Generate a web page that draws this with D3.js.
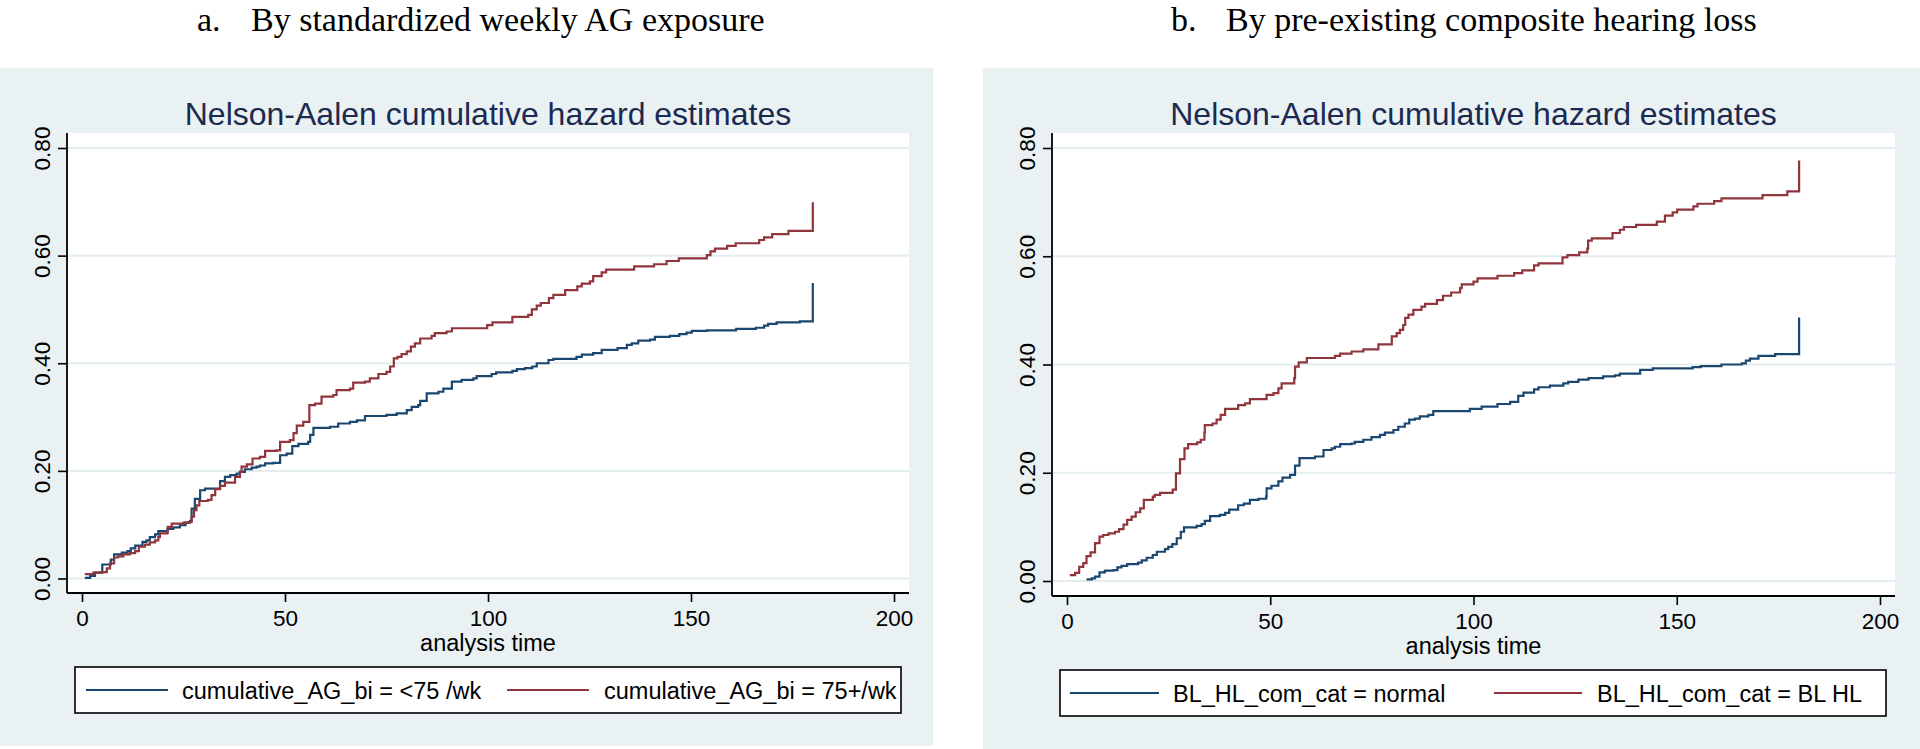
<!DOCTYPE html>
<html><head><meta charset="utf-8">
<script src="https://cdn.jsdelivr.net/npm/d3@7"></script>
<style>body{margin:0;background:#fff;} svg{display:block}</style>
</head><body>
<svg id="c" width="1920" height="749"></svg>
<script>
// ---------- data ----------
const xTicks = [0, 50, 100, 150, 200];
const yTicks = [0, 0.2, 0.4, 0.6, 0.8];
const chartTitle = "Nelson-Aalen cumulative hazard estimates";
const subtitleLeft = ["a.", "By standardized weekly AG exposure"];
const subtitleRight = ["b.", "By pre-existing composite hearing loss"];
const xAxisTitle = "analysis time";
const legendLeft = ["cumulative_AG_bi = <75 /wk", "cumulative_AG_bi = 75+/wk"];
const legendRight = ["BL_HL_com_cat = normal", "BL_HL_com_cat = BL HL"];

// [analysis time, cumulative hazard]
const agLow = [[0.7,0.001],[2.0,0.005],[3.2,0.011],[5.0,0.026],[7.1,0.035],[7.9,0.045],[9.8,0.048],[11.2,0.051],[12.0,0.056],[13.1,0.061],[14.9,0.068],[15.9,0.071],[16.7,0.077],[18.0,0.082],[18.8,0.088],[21.1,0.092],[22.5,0.095],[24.1,0.099],[25.5,0.104],[26.6,0.107],[27.0,0.130],[27.8,0.148],[29.1,0.164],[30.3,0.167],[34.0,0.181],[35.2,0.189],[36.5,0.192],[38.1,0.195],[38.9,0.198],[40.1,0.203],[41.8,0.206],[43.0,0.208],[43.8,0.210],[45.1,0.214],[47.1,0.215],[48.8,0.229],[50.4,0.232],[51.8,0.246],[53.3,0.250],[55.7,0.254],[56.2,0.267],[57.0,0.280],[61.1,0.282],[63.1,0.288],[66.0,0.291],[67.7,0.294],[69.7,0.302],[75.0,0.304],[77.5,0.307],[80.0,0.313],[81.2,0.319],[82.8,0.322],[83.3,0.330],[84.9,0.344],[87.8,0.347],[89.0,0.353],[91.1,0.366],[93.5,0.369],[96.4,0.372],[97.2,0.376],[100.9,0.380],[102.0,0.383],[106.0,0.386],[107.1,0.389],[109.1,0.391],[110.9,0.394],[112.0,0.400],[114.9,0.406],[116.1,0.408],[121.8,0.412],[123.1,0.416],[125.9,0.419],[128.0,0.425],[131.9,0.428],[134.2,0.434],[135.4,0.437],[137.0,0.442],[139.9,0.444],[141.1,0.449],[144.8,0.451],[147.1,0.454],[148.9,0.457],[150.2,0.460],[153.9,0.461],[161.1,0.464],[166.0,0.466],[168.0,0.470],[169.0,0.473],[171.1,0.476],[176.8,0.478],[180.0,0.549]];
const agHigh = [[0.7,0.008],[2.8,0.011],[4.8,0.012],[6.1,0.019],[6.9,0.028],[7.9,0.039],[8.9,0.041],[10.2,0.045],[11.8,0.047],[13.1,0.051],[14.0,0.059],[15.5,0.063],[16.7,0.067],[18.0,0.071],[18.8,0.077],[19.2,0.084],[21.1,0.096],[22.1,0.102],[25.0,0.104],[26.2,0.105],[27.0,0.115],[27.6,0.127],[28.2,0.136],[28.9,0.144],[31.0,0.146],[31.9,0.155],[32.8,0.166],[34.0,0.172],[35.2,0.178],[37.7,0.189],[38.9,0.198],[39.3,0.208],[40.6,0.212],[42.0,0.223],[43.8,0.226],[45.1,0.237],[47.9,0.238],[48.8,0.254],[51.2,0.257],[52.1,0.270],[52.9,0.284],[54.5,0.291],[56.0,0.322],[57.4,0.325],[59.0,0.338],[61.9,0.341],[62.7,0.350],[66.0,0.353],[66.8,0.364],[69.7,0.366],[70.9,0.372],[73.0,0.380],[75.0,0.384],[75.9,0.394],[76.8,0.409],[77.7,0.412],[78.7,0.417],[80.0,0.422],[81.0,0.431],[82.0,0.437],[83.3,0.446],[86.1,0.451],[86.9,0.456],[89.8,0.459],[91.1,0.465],[99.8,0.471],[101.1,0.476],[106.0,0.486],[109.9,0.490],[110.8,0.500],[112.0,0.507],[113.0,0.512],[115.0,0.521],[116.1,0.527],[119.0,0.536],[122.0,0.543],[123.1,0.548],[125.1,0.552],[125.9,0.562],[128.0,0.569],[129.1,0.574],[136.0,0.580],[140.9,0.584],[144.0,0.590],[147.0,0.595],[153.9,0.601],[154.8,0.608],[155.9,0.613],[158.9,0.618],[161.0,0.623],[166.8,0.629],[168.0,0.634],[170.0,0.640],[174.0,0.646],[180.0,0.699]];
const hlNormal = [[4.8,0.003],[6.1,0.005],[6.9,0.008],[8.0,0.016],[9.3,0.019],[11.4,0.020],[12.4,0.025],[13.4,0.028],[14.8,0.031],[17.5,0.034],[18.4,0.038],[19.6,0.043],[21.1,0.048],[22.1,0.054],[24.1,0.059],[24.9,0.063],[25.9,0.068],[27.0,0.079],[28.0,0.091],[28.8,0.099],[31.9,0.102],[33.1,0.105],[33.9,0.111],[35.2,0.120],[37.6,0.122],[38.9,0.126],[39.9,0.132],[42.1,0.140],[43.5,0.143],[45.0,0.150],[47.1,0.152],[49.0,0.156],[49.1,0.171],[50.3,0.176],[52.0,0.184],[53.0,0.191],[54.9,0.196],[56.1,0.213],[57.2,0.227],[61.0,0.230],[63.1,0.242],[65.1,0.245],[65.9,0.248],[67.2,0.253],[70.0,0.254],[70.8,0.257],[72.9,0.261],[74.9,0.266],[77.0,0.270],[78.2,0.274],[80.3,0.279],[81.5,0.285],[83.1,0.291],[84.2,0.298],[85.6,0.300],[86.8,0.304],[88.9,0.307],[90.1,0.314],[99.1,0.318],[102.0,0.322],[105.9,0.327],[109.0,0.331],[111.0,0.342],[112.3,0.348],[114.9,0.354],[116.0,0.358],[118.8,0.361],[122.1,0.365],[123.3,0.368],[125.8,0.372],[128.3,0.375],[131.9,0.378],[134.8,0.380],[136.0,0.383],[141.0,0.390],[144.1,0.393],[153.9,0.395],[155.9,0.397],[161.0,0.400],[166.0,0.402],[167.0,0.407],[168.0,0.411],[170.1,0.416],[174.2,0.419],[180.1,0.487]];
const hlBL = [[0.7,0.011],[2.0,0.015],[3.0,0.026],[4.0,0.033],[4.8,0.046],[5.8,0.053],[6.9,0.070],[8.0,0.082],[8.9,0.085],[10.2,0.088],[11.8,0.091],[12.8,0.096],[13.9,0.104],[14.8,0.113],[15.9,0.119],[16.9,0.127],[18.0,0.134],[18.9,0.150],[21.1,0.156],[21.6,0.159],[22.9,0.163],[26.0,0.169],[26.8,0.199],[27.8,0.225],[28.9,0.245],[29.8,0.253],[32.0,0.256],[32.9,0.261],[33.8,0.274],[33.9,0.288],[35.8,0.291],[36.8,0.298],[37.8,0.307],[38.9,0.318],[42.1,0.325],[43.8,0.328],[45.0,0.336],[49.1,0.344],[50.8,0.347],[52.0,0.356],[52.8,0.365],[55.9,0.375],[56.1,0.396],[57.0,0.404],[59.0,0.412],[65.9,0.416],[67.2,0.420],[70.0,0.424],[72.9,0.428],[76.6,0.437],[79.9,0.452],[81.1,0.458],[81.9,0.464],[82.7,0.473],[83.2,0.486],[84.0,0.492],[85.2,0.501],[87.2,0.507],[88.1,0.512],[91.0,0.519],[92.5,0.527],[94.5,0.533],[96.7,0.541],[97.1,0.548],[100.0,0.553],[101.0,0.559],[105.9,0.564],[110.0,0.569],[112.0,0.574],[114.9,0.583],[116.0,0.587],[121.9,0.598],[123.1,0.602],[126.0,0.607],[128.0,0.614],[128.2,0.629],[129.1,0.633],[134.2,0.643],[136.0,0.649],[137.0,0.654],[140.0,0.658],[145.1,0.664],[147.1,0.675],[149.0,0.681],[150.1,0.686],[154.1,0.692],[155.1,0.697],[159.2,0.702],[161.0,0.707],[171.1,0.713],[177.2,0.720],[180.1,0.777]];

// ---------- style / layout ----------
const BG = "#e9f1f3", GRID = "#e3edf0", BLUE = "#1a476f", RED = "#90353b", TITLE = "#1c2a50";
const SANS = "'Liberation Sans', Arial, Helvetica, sans-serif";
const SERIF = "'Liberation Serif', 'Times New Roman', serif";

const panels = [
  { bg:[0,68,933,678], px0:67, px1:909, py0:133, py1:593, xr:[82,894], yr:[578.5,148],
    titleX:488, sub:subtitleLeft, subA:197, subB:251,
    legend:{x:75,y:667,w:826,h:46, items:[[86,168,182],[507,589,604]]},
    series:[agLow, agHigh], labels:legendLeft },
  { bg:[983,68,937,681], px0:1052, px1:1895, py0:133, py1:596, xr:[1067,1880], yr:[581,148],
    titleX:1473.5, sub:subtitleRight, subA:1171, subB:1226,
    legend:{x:1060,y:670,w:826,h:46, items:[[1070,1159,1173],[1494,1582,1597]]},
    series:[hlNormal, hlBL], labels:legendRight }
];

const svg = d3.select("#c");
const colors = [BLUE, RED];

panels.forEach(p => {
  const g = svg.append("g");
  g.append("rect").attr("x",p.bg[0]).attr("y",p.bg[1]).attr("width",p.bg[2]).attr("height",p.bg[3]).attr("fill",BG);
  // subtitle
  g.append("text").attr("x",p.subA).attr("y",31).attr("font-family",SERIF).attr("font-size",34).attr("fill","#000").text(p.sub[0]);
  g.append("text").attr("x",p.subB).attr("y",31).attr("font-family",SERIF).attr("font-size",34).attr("fill","#000").text(p.sub[1]);
  // title
  g.append("text").attr("x",p.titleX).attr("y",125).attr("text-anchor","middle")
    .attr("font-family",SANS).attr("font-size",32).attr("fill",TITLE).text(chartTitle);
  // plot region
  g.append("rect").attr("x",p.px0).attr("y",p.py0).attr("width",p.px1-p.px0).attr("height",p.py1-p.py0).attr("fill","#fff");

  const x = d3.scaleLinear().domain([0,200]).range(p.xr);
  const y = d3.scaleLinear().domain([0,0.8]).range(p.yr);

  // gridlines
  g.append("g").selectAll("line").data(yTicks).join("line")
    .attr("x1",p.px0).attr("x2",p.px1).attr("y1",d=>y(d)).attr("y2",d=>y(d))
    .attr("stroke",GRID).attr("stroke-width",2);

  // series
  const line = d3.line().x(d=>x(d[0])).y(d=>y(d[1])).curve(d3.curveStepAfter);
  p.series.forEach((s,i)=>{
    g.append("path").attr("d",line(s)).attr("fill","none").attr("stroke",colors[i])
      .attr("stroke-width",2.2).attr("stroke-linejoin","miter");
  });

  // x axis
  const xa = g.append("g").attr("transform",`translate(0,${p.py1})`)
    .call(d3.axisBottom(x).tickValues(xTicks).tickSize(9).tickSizeOuter(0).tickPadding(6).tickFormat(d3.format("d")));
  xa.select(".domain").remove();
  xa.selectAll(".tick line").attr("stroke","#000").attr("stroke-width",1.6);
  xa.selectAll(".tick text").attr("font-family",SANS).attr("font-size",22.5).attr("fill","#000")
    .attr("dy",null).attr("y",33);
  // y axis
  const ya = g.append("g").attr("transform",`translate(${p.px0},0)`)
    .call(d3.axisLeft(y).tickValues(yTicks).tickSize(9).tickSizeOuter(0).tickFormat(d3.format(".2f")));
  ya.select(".domain").remove();
  ya.selectAll(".tick line").attr("stroke","#000").attr("stroke-width",1.6);
  ya.selectAll(".tick text").attr("font-family",SANS).attr("font-size",22.5).attr("fill","#000")
    .attr("text-anchor","middle").attr("transform","rotate(-90)").attr("x",0).attr("y",-17).attr("dy",null);
  // axis lines
  g.append("line").attr("x1",p.px0).attr("x2",p.px1).attr("y1",p.py1).attr("y2",p.py1).attr("stroke","#000").attr("stroke-width",1.8);
  g.append("line").attr("x1",p.px0).attr("x2",p.px0).attr("y1",p.py0).attr("y2",p.py1).attr("stroke","#000").attr("stroke-width",1.8);

  // axis title
  g.append("text").attr("x",(p.px0+p.px1)/2).attr("y",p.py1+58).attr("text-anchor","middle")
    .attr("font-family",SANS).attr("font-size",23.5).attr("fill","#000").text(xAxisTitle);

  // legend
  const L = p.legend;
  g.append("rect").attr("x",L.x).attr("y",L.y).attr("width",L.w).attr("height",L.h)
    .attr("fill","#fff").attr("stroke","#000").attr("stroke-width",1.6);
  L.items.forEach((it,i)=>{
    g.append("line").attr("x1",it[0]).attr("x2",it[1]).attr("y1",L.y+L.h/2).attr("y2",L.y+L.h/2)
      .attr("stroke",colors[i]).attr("stroke-width",2.2);
    g.append("text").attr("x",it[2]).attr("y",L.y+L.h/2+8.5).attr("font-family",SANS).attr("font-size",23.5)
      .attr("fill","#000").text(p.labels[i]);
  });
});
</script>
</body></html>
